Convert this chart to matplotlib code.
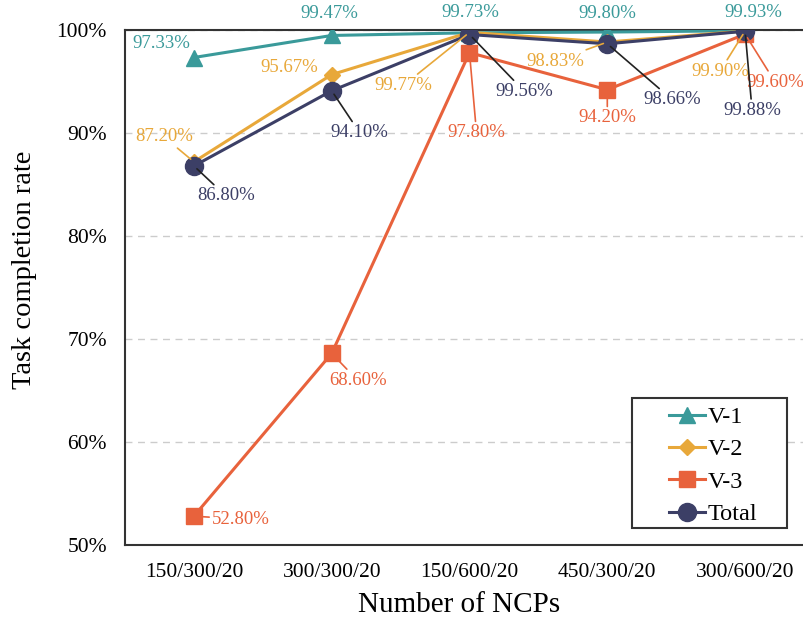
import matplotlib
matplotlib.use("Agg")
import matplotlib.pyplot as plt
from matplotlib.patches import Rectangle

categories = ["150/300/20", "300/300/20", "150/600/20", "450/300/20", "300/600/20"]
v1 = [97.33, 99.47, 99.73, 99.80, 99.93]
v2 = [87.20, 95.67, 99.77, 98.83, 99.90]
v3 = [52.80, 68.60, 97.80, 94.20, 99.60]
total = [86.80, 94.10, 99.56, 98.66, 99.88]
yticks = [50, 60, 70, 80, 90, 100]

c1 = "#3a9a9a"
c2 = "#e8a83a"
c3 = "#e8623c"
c4 = "#3c3f66"

plt.rcParams['font.family'] = ['Liberation Serif', 'DejaVu Serif']

fig = plt.figure(figsize=(8.04, 6.22), dpi=100)
W, H = 804, 622
left, right, top, bottom = 125, 814, 30, 545
ax = fig.add_axes([left / W, 1 - bottom / H, (right - left) / W, (bottom - top) / H])

def ax_frac(px, py):
    return ((px - left) / (right - left), (bottom - py) / (bottom - top))

x = list(range(len(categories)))
ax.plot(x, v1, color=c1, lw=2.2, marker="^", ms=11, label="V-1", zorder=3)
ax.plot(x, v2, color=c2, lw=2.2, marker="D", ms=8, label="V-2", zorder=4)
ax.plot(x, v3, color=c3, lw=2.2, marker="s", ms=12, label="V-3", zorder=3)
ax.plot(x, total, color=c4, lw=2.2, marker="o", ms=13, label="Total", zorder=5)

ax.set_xlim(-0.5, 4.5)
ax.set_ylim(50, 100)
ax.set_yticks(yticks)
ax.set_yticklabels([f"{t}%" for t in yticks])
ax.set_xticks(x)
ax.set_xticklabels(categories)
ax.tick_params(length=0, labelsize=15.5, pad=13)
ax.tick_params(axis='y', pad=13)
for s in ax.spines.values():
    s.set_color("#333333")
    s.set_linewidth(1.5)
ax.yaxis.grid(True, linestyle=(0, (5, 4)), color="#cccccc", lw=1)
ax.set_axisbelow(True)
ax.set_ylabel("Task completion rate", fontsize=20.5)
ax.yaxis.set_label_coords(*ax_frac(37, 270))
ax.set_xlabel("Number of NCPs", fontsize=21)
ax.xaxis.set_label_coords(*ax_frac(459, 592))

# label offsets in pixels (dx, dy), leader flag
offs1 = [(-33, 14, False), (-2, 22, False), (1, 20, False), (0, 19, False), (8, 18, False)]
offs2 = [(-30, 25, True), (-42, 7, False), (-66, -53, True), (-52, -19, True), (-25, -40, True)]
offs3 = [(47, -3, True), (26, -27, True), (7, -80, True), (0, -28, True), (30, -48, True)]
offs4 = [(32, -30, True), (28, -42, True), (55, -57, True), (65, -56, True), (7, -79, True)]

def label(vals, offs, color, lcolor):
    for i, (v, (dx, dy, lead)) in enumerate(zip(vals, offs)):
        kw = {}
        if lead:
            kw["arrowprops"] = dict(arrowstyle="-", color=lcolor, lw=1.2,
                                    shrinkA=0, shrinkB=3)
        ax.annotate(f"{v:.2f}%", xy=(i, v), xytext=(dx, dy),
                    textcoords="offset pixels", ha="center", va="center",
                    fontsize=13.5, color=color, annotation_clip=False, zorder=6, **kw)

label(v1, offs1, c1, c1)
label(v2, offs2, c2, c2)
label(v3, offs3, c3, c3)
label(total, offs4, c4, "#222222")

# legend frame drawn separately (wide horizontal padding)
fx0, fy0 = ax_frac(632, 528)
fx1, fy1 = ax_frac(787, 398)
ax.add_patch(Rectangle((fx0, fy0), fx1 - fx0, fy1 - fy0, transform=ax.transAxes,
                       facecolor="white", edgecolor="#333333", lw=1.5, zorder=7))
leg = ax.legend(loc="upper left", bbox_to_anchor=ax_frac(669, 406),
                fontsize=17.5, frameon=False,
                handlelength=1.5, borderpad=0, labelspacing=0.43, handletextpad=0.1,
                borderaxespad=0)
leg.set_zorder(8)

fig.savefig("out.png", dpi=100)
